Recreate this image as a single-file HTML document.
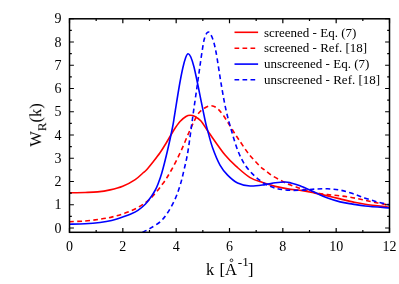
<!DOCTYPE html>
<html><head><meta charset="utf-8"><style>
html,body{margin:0;padding:0;background:#fff;}
svg{display:block;font-family:"Liberation Serif",serif;}
</style></head><body>
<svg width="399" height="284" viewBox="0 0 399 284">
<rect width="399" height="284" fill="#fff"/>
<defs><clipPath id="c"><rect x="69.50" y="18.80" width="320.00" height="213.50"/></clipPath></defs>
<g clip-path="url(#c)" fill="none" stroke-width="1.6" stroke-linejoin="round">
<path d="M69.20,192.80 C71.85,192.75 80.37,192.65 85.10,192.50 C89.83,192.35 93.43,192.33 97.60,191.90 C101.77,191.47 105.92,190.83 110.10,189.90 C114.28,188.97 118.52,188.02 122.70,186.30 C126.88,184.58 131.83,181.82 135.20,179.60 C138.57,177.38 141.03,174.60 142.90,173.00 C144.77,171.40 144.72,171.83 146.40,170.00 C148.08,168.17 150.73,164.87 153.00,162.00 C155.27,159.13 157.80,155.97 160.00,152.80 C162.20,149.63 163.88,146.80 166.20,143.00 C168.52,139.20 171.60,133.58 173.90,130.00 C176.20,126.42 177.98,123.75 180.00,121.50 C182.02,119.25 184.32,117.53 186.00,116.50 C187.68,115.47 188.60,115.30 190.10,115.30 C191.60,115.30 193.18,115.55 195.00,116.50 C196.82,117.45 198.70,118.33 201.00,121.00 C203.30,123.67 204.78,126.82 208.80,132.50 C212.82,138.18 220.30,149.25 225.10,155.10 C229.90,160.95 233.43,163.85 237.60,167.60 C241.77,171.35 245.92,175.10 250.10,177.60 C254.28,180.10 258.52,181.13 262.70,182.60 C266.88,184.07 271.03,185.35 275.20,186.40 C279.37,187.45 283.15,188.20 287.70,188.90 C292.25,189.60 297.93,189.90 302.50,190.60 C307.07,191.30 310.92,192.22 315.10,193.10 C319.28,193.98 323.43,194.93 327.60,195.90 C331.77,196.87 335.92,197.90 340.10,198.90 C344.28,199.90 348.52,201.02 352.70,201.90 C356.88,202.78 359.07,203.32 365.20,204.20 C371.33,205.08 385.45,206.70 389.50,207.20" stroke="#ff0000"/>
<path d="M69.20,221.70 C71.83,221.58 79.87,221.42 85.00,221.00 C90.13,220.58 95.42,219.88 100.00,219.20 C104.58,218.52 108.32,217.92 112.50,216.90 C116.68,215.88 120.92,214.65 125.10,213.10 C129.28,211.55 133.43,209.98 137.60,207.60 C141.77,205.22 145.92,202.77 150.10,198.80 C154.28,194.83 159.15,188.60 162.70,183.80 C166.25,179.00 168.35,175.47 171.40,170.00 C174.45,164.53 177.90,157.67 181.00,151.00 C184.10,144.33 187.17,136.17 190.00,130.00 C192.83,123.83 195.55,117.67 198.00,114.00 C200.45,110.33 202.57,109.37 204.70,108.00 C206.83,106.63 208.78,105.80 210.80,105.80 C212.82,105.80 214.72,106.42 216.80,108.00 C218.88,109.58 220.55,111.42 223.30,115.30 C226.05,119.18 230.67,127.18 233.30,131.30 C235.93,135.42 236.57,136.28 239.10,140.00 C241.63,143.72 245.02,149.22 248.50,153.60 C251.98,157.98 257.22,163.50 260.00,166.30 C262.78,169.10 263.08,168.78 265.20,170.40 C267.32,172.02 269.78,174.17 272.70,176.00 C275.62,177.83 279.82,179.93 282.70,181.40 C285.58,182.87 287.12,183.67 290.00,184.80 C292.88,185.93 297.33,187.28 300.00,188.20 C302.67,189.12 303.50,189.57 306.00,190.30 C308.50,191.03 311.40,191.88 315.00,192.60 C318.60,193.32 323.42,194.07 327.60,194.60 C331.78,195.13 335.92,195.28 340.10,195.80 C344.28,196.32 348.52,196.95 352.70,197.70 C356.88,198.45 361.03,199.42 365.20,200.30 C369.37,201.18 373.65,202.18 377.70,203.00 C381.75,203.82 387.53,204.83 389.50,205.20" stroke="#ff0000" stroke-dasharray="4.7 3.3"/>
<path d="M69.20,224.20 C71.83,224.12 79.87,223.98 85.00,223.70 C90.13,223.42 96.23,222.92 100.00,222.50 C103.77,222.08 105.07,221.72 107.60,221.20 C110.13,220.68 112.68,220.10 115.20,219.40 C117.72,218.70 120.18,217.87 122.70,217.00 C125.22,216.13 127.77,215.32 130.30,214.20 C132.83,213.08 135.37,212.00 137.90,210.30 C140.43,208.60 143.23,206.33 145.50,204.00 C147.77,201.67 149.87,198.63 151.50,196.30 C153.13,193.97 154.28,191.88 155.30,190.00 C156.32,188.12 156.52,187.83 157.60,185.00 C158.68,182.17 160.17,178.67 161.80,173.00 C163.43,167.33 165.63,158.50 167.40,151.00 C169.17,143.50 171.20,134.00 172.40,128.00 C173.60,122.00 173.45,122.00 174.60,115.00 C175.75,108.00 177.93,93.83 179.30,86.00 C180.67,78.17 181.73,72.75 182.80,68.00 C183.87,63.25 184.82,59.87 185.70,57.50 C186.58,55.13 187.25,53.88 188.10,53.80 C188.95,53.72 189.82,54.80 190.80,57.00 C191.78,59.20 192.78,62.17 194.00,67.00 C195.22,71.83 196.27,77.17 198.10,86.00 C199.93,94.83 203.43,112.67 205.00,120.00 C206.57,127.33 206.25,125.42 207.50,130.00 C208.75,134.58 210.42,141.65 212.50,147.50 C214.58,153.35 217.48,160.50 220.00,165.10 C222.52,169.70 224.67,172.12 227.60,175.10 C230.53,178.08 233.85,181.18 237.60,183.00 C241.35,184.82 245.50,185.73 250.10,186.00 C254.70,186.27 261.02,185.13 265.20,184.60 C269.38,184.07 271.83,183.23 275.20,182.80 C278.57,182.37 282.77,181.97 285.40,182.00 C288.03,182.03 288.57,182.37 291.00,183.00 C293.43,183.63 295.98,184.20 300.00,185.80 C304.02,187.40 310.50,190.55 315.10,192.60 C319.70,194.65 323.43,196.55 327.60,198.10 C331.77,199.65 335.92,200.90 340.10,201.90 C344.28,202.90 348.52,203.42 352.70,204.10 C356.88,204.78 359.07,205.35 365.20,206.00 C371.33,206.65 385.45,207.67 389.50,208.00" stroke="#0000ff"/>
<path d="M142.40,232.50 C143.68,231.82 147.13,230.20 150.10,228.40 C153.07,226.60 157.27,224.33 160.20,221.70 C163.13,219.07 165.20,216.42 167.70,212.60 C170.20,208.78 173.12,203.40 175.20,198.80 C177.28,194.20 178.73,189.80 180.20,185.00 C181.67,180.20 182.70,175.67 184.00,170.00 C185.30,164.33 186.50,160.17 188.00,151.00 C189.50,141.83 191.33,126.83 193.00,115.00 C194.67,103.17 196.50,90.50 198.00,80.00 C199.50,69.50 200.90,59.00 202.00,52.00 C203.10,45.00 203.57,41.33 204.60,38.00 C205.63,34.67 206.97,32.17 208.20,32.00 C209.43,31.83 210.70,33.67 212.00,37.00 C213.30,40.33 214.42,43.83 216.00,52.00 C217.58,60.17 219.83,76.33 221.50,86.00 C223.17,95.67 224.37,102.67 226.00,110.00 C227.63,117.33 229.37,123.33 231.30,130.00 C233.23,136.67 235.30,144.15 237.60,150.00 C239.90,155.85 242.18,160.70 245.10,165.10 C248.02,169.50 251.75,173.27 255.10,176.40 C258.45,179.53 261.85,181.95 265.20,183.90 C268.55,185.85 271.45,187.05 275.20,188.10 C278.95,189.15 283.15,189.87 287.70,190.20 C292.25,190.53 297.95,190.28 302.50,190.10 C307.05,189.92 310.82,189.32 315.00,189.10 C319.18,188.88 323.42,188.63 327.60,188.80 C331.78,188.97 335.92,189.30 340.10,190.10 C344.28,190.90 348.52,192.25 352.70,193.60 C356.88,194.95 361.03,196.80 365.20,198.20 C369.37,199.60 373.65,200.88 377.70,202.00 C381.75,203.12 387.53,204.42 389.50,204.90" stroke="#0000ff" stroke-dasharray="4.7 3.3"/>
</g>
<g stroke="#000" stroke-width="1.2" fill="none"><path d="M69.50,232.30v-4.4 M69.50,18.80v4.4"/><path d="M96.17,232.30v-2.3 M96.17,18.80v2.3"/><path d="M122.83,232.30v-4.4 M122.83,18.80v4.4"/><path d="M149.50,232.30v-2.3 M149.50,18.80v2.3"/><path d="M176.17,232.30v-4.4 M176.17,18.80v4.4"/><path d="M202.83,232.30v-2.3 M202.83,18.80v2.3"/><path d="M229.50,232.30v-4.4 M229.50,18.80v4.4"/><path d="M256.17,232.30v-2.3 M256.17,18.80v2.3"/><path d="M282.83,232.30v-4.4 M282.83,18.80v4.4"/><path d="M309.50,232.30v-2.3 M309.50,18.80v2.3"/><path d="M336.17,232.30v-4.4 M336.17,18.80v4.4"/><path d="M362.83,232.30v-2.3 M362.83,18.80v2.3"/><path d="M389.50,232.30v-4.4 M389.50,18.80v4.4"/><path d="M69.50,228.00h4.4 M389.50,228.00h-4.4"/><path d="M69.50,216.38h2.3 M389.50,216.38h-2.3"/><path d="M69.50,204.75h4.4 M389.50,204.75h-4.4"/><path d="M69.50,193.12h2.3 M389.50,193.12h-2.3"/><path d="M69.50,181.50h4.4 M389.50,181.50h-4.4"/><path d="M69.50,169.88h2.3 M389.50,169.88h-2.3"/><path d="M69.50,158.25h4.4 M389.50,158.25h-4.4"/><path d="M69.50,146.62h2.3 M389.50,146.62h-2.3"/><path d="M69.50,135.00h4.4 M389.50,135.00h-4.4"/><path d="M69.50,123.38h2.3 M389.50,123.38h-2.3"/><path d="M69.50,111.75h4.4 M389.50,111.75h-4.4"/><path d="M69.50,100.12h2.3 M389.50,100.12h-2.3"/><path d="M69.50,88.50h4.4 M389.50,88.50h-4.4"/><path d="M69.50,76.88h2.3 M389.50,76.88h-2.3"/><path d="M69.50,65.25h4.4 M389.50,65.25h-4.4"/><path d="M69.50,53.62h2.3 M389.50,53.62h-2.3"/><path d="M69.50,42.00h4.4 M389.50,42.00h-4.4"/><path d="M69.50,30.38h2.3 M389.50,30.38h-2.3"/><path d="M69.50,18.75h4.4 M389.50,18.75h-4.4"/></g>
<rect x="69.50" y="18.80" width="320.00" height="213.50" fill="none" stroke="#000" stroke-width="1.5"/>
<g font-size="14" fill="#000" style="filter:grayscale(1)"><text x="69.50" y="250.8" text-anchor="middle">0</text><text x="122.83" y="250.8" text-anchor="middle">2</text><text x="176.17" y="250.8" text-anchor="middle">4</text><text x="229.50" y="250.8" text-anchor="middle">6</text><text x="282.83" y="250.8" text-anchor="middle">8</text><text x="336.17" y="250.8" text-anchor="middle">10</text><text x="389.50" y="250.8" text-anchor="middle">12</text><text x="61.5" y="232.70" text-anchor="end">0</text><text x="61.5" y="209.45" text-anchor="end">1</text><text x="61.5" y="186.20" text-anchor="end">2</text><text x="61.5" y="162.95" text-anchor="end">3</text><text x="61.5" y="139.70" text-anchor="end">4</text><text x="61.5" y="116.45" text-anchor="end">5</text><text x="61.5" y="93.20" text-anchor="end">6</text><text x="61.5" y="69.95" text-anchor="end">7</text><text x="61.5" y="46.70" text-anchor="end">8</text><text x="61.5" y="23.45" text-anchor="end">9</text></g>
<g fill="none" stroke-width="1.6">
<path d="M234.5,32.3H258.1" stroke="#ff0000"/>
<path d="M234.5,48.2H258.1" stroke="#ff0000" stroke-dasharray="4.7 3.3"/>
<path d="M234.5,64.1H258.1" stroke="#0000ff"/>
<path d="M234.5,79.8H258.1" stroke="#0000ff" stroke-dasharray="4.7 3.3"/>
</g>
<g font-size="13" fill="#000" style="filter:grayscale(1)">
<text x="263.9" y="36.6">screened - Eq. (7)</text>
<text x="263.9" y="52.4">screened - Ref. [18]</text>
<text x="263.9" y="68.2">unscreened - Eq. (7)</text>
<text x="263.9" y="84.1">unscreened - Ref. [18]</text>
</g>
<g style="filter:grayscale(1)"><text x="206.0" y="274.6" font-size="16.5">k <tspan dx="1.2">[A</tspan><tspan font-size="13.2" dy="-8.3" dx="0.8">-1</tspan><tspan dy="8.3" dx="-0.7">]</tspan></text><circle cx="231.5" cy="260.3" r="1.35" fill="none" stroke="#000" stroke-width="0.8"/>
<text transform="translate(41.2,125) rotate(-90)" font-size="16.5" text-anchor="middle">W<tspan font-size="13.2" dy="5.3">R</tspan><tspan dy="-5.3">(k)</tspan></text></g>
</svg>
</body></html>
